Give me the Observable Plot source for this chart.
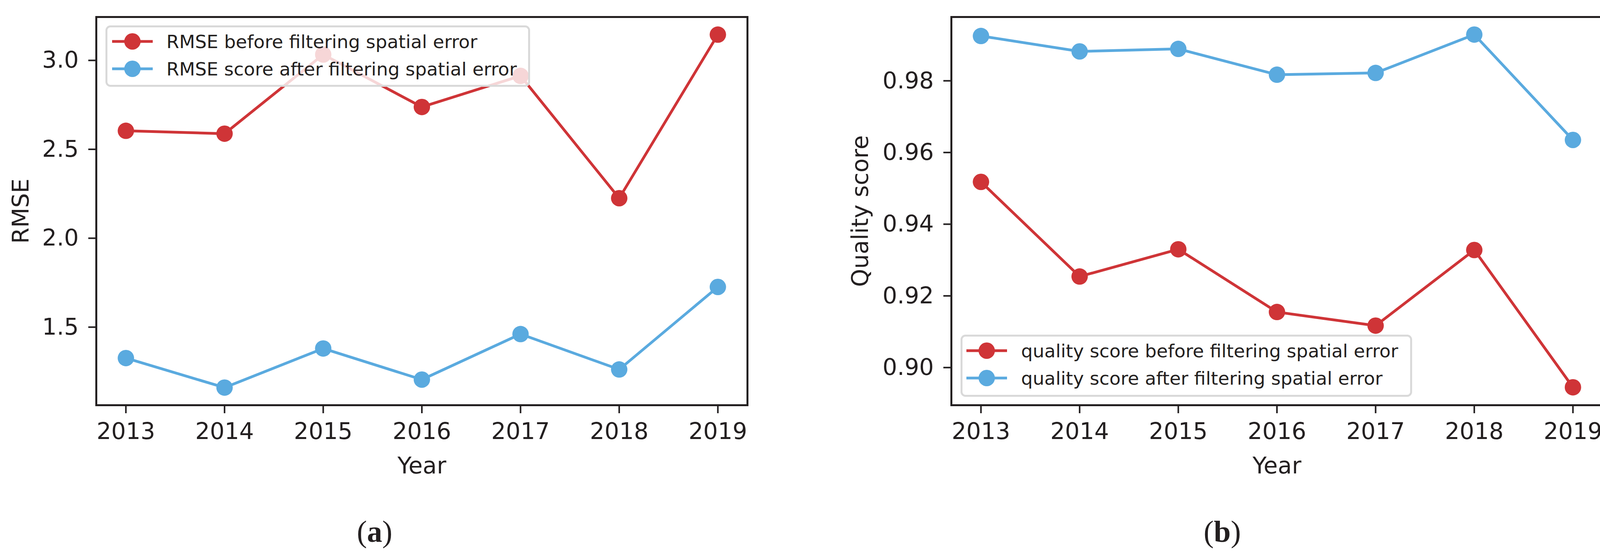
<!DOCTYPE html>
<html>
<head>
<meta charset="utf-8">
<script src="https://cdn.jsdelivr.net/npm/d3@7"></script>
<script src="https://cdn.jsdelivr.net/npm/@observablehq/plot@0.6"></script>
<style>
  body { margin: 0; background: #fff; }
  #fig { position: relative; width: 4129px; height: 1412px; overflow: hidden; background: #fff; }
  .panel { position: absolute; top: 0; }
  .cap { position: absolute; top: 1321px; transform: translateX(-50%); font-family: "Liberation Serif", serif; font-size: 78px; line-height: 78px; color: #231f20; white-space: nowrap; }
</style>
</head>
<body>
<div id="fig"></div>
<script>
// ---- data ----
const years = [2013, 2014, 2015, 2016, 2017, 2018, 2019];
const rmseBefore = [2.604, 2.588, 3.033, 2.738, 2.913, 2.225, 3.145];
const rmseAfter = [1.326, 1.160, 1.380, 1.205, 1.461, 1.262, 1.726];
const qualityBefore = [0.9518, 0.9254, 0.9330, 0.9155, 0.9117, 0.9328, 0.8945];
const qualityAfter = [0.9925, 0.9882, 0.9889, 0.9817, 0.9822, 0.9929, 0.9635];
const namesA = ["RMSE before filtering spatial error", "RMSE score after filtering spatial error"];
const namesB = ["quality score before filtering spatial error", "quality score after filtering spatial error"];
const rmseTicks = [1.5, 2.0, 2.5, 3.0];
const qualityTicks = [0.90, 0.92, 0.94, 0.96, 0.98];
const colors = ["#cf3437", "#5aaadf"];
const ink = "#231f20";

const fig = document.getElementById("fig");

function makePanel(cfg) {
  const rows = cfg.series.flatMap((vals, i) => years.map((year, j) => ({year, value: vals[j], series: i})));
  const chart = Plot.plot({
    width: cfg.width,
    height: 1240,
    marginTop: 43,
    marginBottom: 204,
    marginLeft: cfg.marginLeft,
    marginRight: cfg.marginRight,
    style: {fontFamily: "'DejaVu Sans'", fontSize: "59px", color: ink, background: "white", overflow: "visible"},
    x: {domain: [2012.7, 2019.3]},
    y: {domain: cfg.yDomain},
    color: {type: "ordinal", domain: [0, 1], range: colors},
    marks: [
      Plot.line(rows, {x: "year", y: "value", z: "series", stroke: "series", strokeWidth: 7, strokeLinejoin: "round"}),
      Plot.dot(rows, {x: "year", y: "value", fill: "series", r: 21}),
      Plot.frame({stroke: ink, strokeWidth: 5}),
      Plot.axisX({ticks: years, tickFormat: d => String(d), tickSize: 21, tickPadding: 24, strokeWidth: 4,
                  label: "Year", labelAnchor: "center", labelOffset: 174, labelArrow: false}),
      Plot.axisY({ticks: cfg.yTicks, tickFormat: d3.format(cfg.fmt), tickSize: 20, tickPadding: 25, strokeWidth: 4,
                  label: cfg.yLabel, labelAnchor: "center", labelOffset: cfg.labelOffset, labelArrow: false})
    ]
  });
  chart.classList.add("panel");
  chart.style.left = cfg.left + "px";
  fig.appendChild(chart);
}

function makeLegend(names, box) {
  const svg = d3.create("svg")
    .attr("width", box.w).attr("height", box.h)
    .style("position", "absolute").style("left", box.x + "px").style("top", box.y + "px")
    .style("overflow", "visible");
  svg.append("rect")
    .attr("x", 2.5).attr("y", 2.5).attr("width", box.w - 5).attr("height", box.h - 5)
    .attr("rx", 10).attr("fill", "white").attr("fill-opacity", 0.8)
    .attr("stroke", "#d9d9d9").attr("stroke-width", 5);
  names.forEach((name, i) => {
    const cy = box.row0 + i * 70;
    svg.append("line").attr("x1", box.sw0).attr("x2", box.sw0 + 104).attr("y1", cy).attr("y2", cy)
      .attr("stroke", colors[i]).attr("stroke-width", 7);
    svg.append("circle").attr("cx", box.sw0 + 52).attr("cy", cy).attr("r", 21).attr("fill", colors[i]);
    svg.append("text").attr("x", box.tx).attr("y", cy + 17)
      .attr("font-size", 47).attr("font-family", "DejaVu Sans").attr("fill", ink).text(name);
  });
  fig.appendChild(svg.node());
}

makePanel({
  left: 0, width: 2064, marginLeft: 246, marginRight: 151,
  series: [rmseBefore, rmseAfter], yDomain: [1.061, 3.244], yTicks: rmseTicks, fmt: ".1f",
  yLabel: "RMSE", labelOffset: 215
});
makePanel({
  left: 2064, width: 2065, marginLeft: 371, marginRight: 27,
  series: [qualityBefore, qualityAfter], yDomain: [0.8895, 0.9978], yTicks: qualityTicks, fmt: ".2f",
  yLabel: "Quality score", labelOffset: 255
});

makeLegend(namesA, {x: 270, y: 65, w: 1087, h: 157, row0: 41, sw0: 17, tx: 156});
makeLegend(namesB, {x: 2459, y: 856, w: 1156, h: 159, row0: 41, sw0: 15, tx: 155});

for (const [label, cx] of [["a", 959], ["b", 3129]]) {
  const d = document.createElement("div");
  d.className = "cap";
  d.style.left = cx + "px";
  d.innerHTML = "(<b>" + label + "</b>)";
  fig.appendChild(d);
}
</script>
</body>
</html>
